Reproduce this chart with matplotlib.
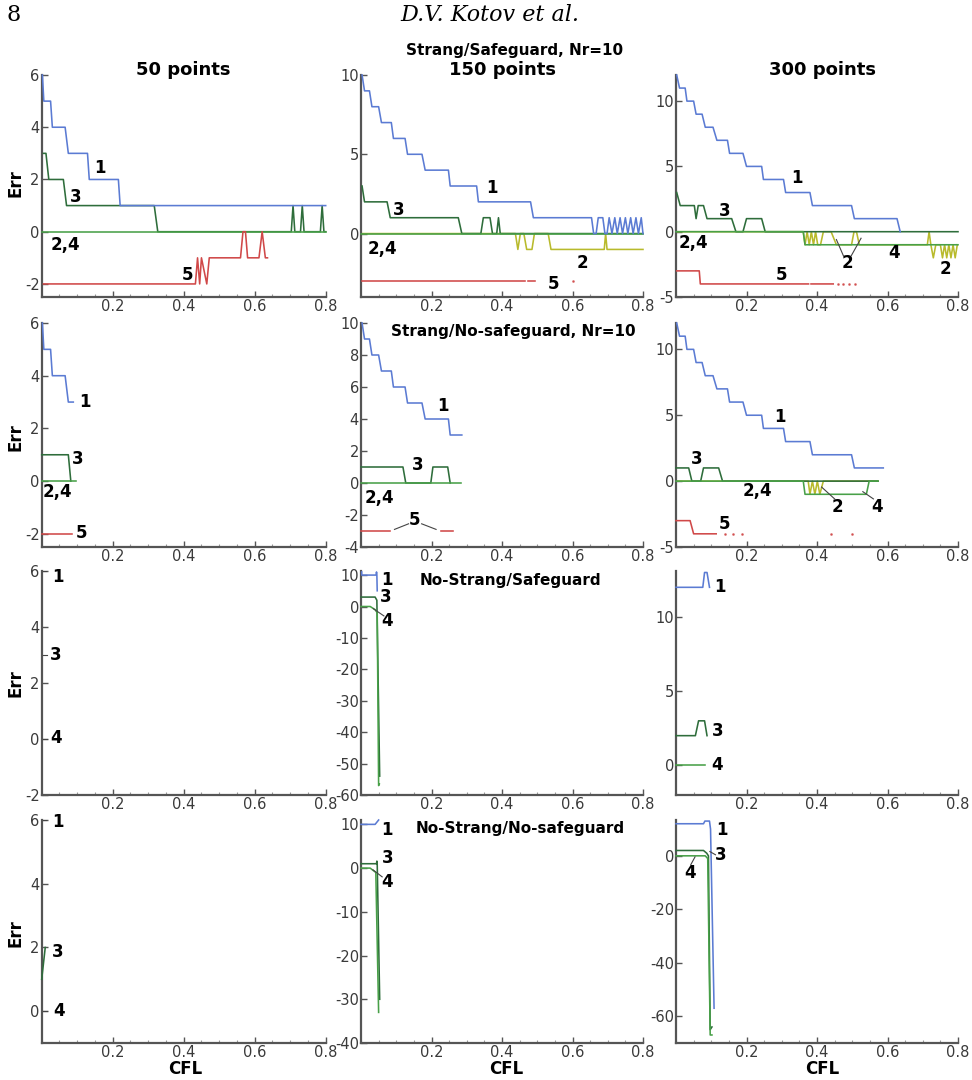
import numpy as np
import matplotlib
matplotlib.use('Agg')
import matplotlib.pyplot as plt
from matplotlib.ticker import MultipleLocator, FixedLocator

plt.rcParams['axes.unicode_minus'] = False
plt.rcParams['font.family'] = ['DejaVu Sans']

C1 = '#5b7bd3'   # curve 1 (blue)
C2 = '#b8ba2c'   # curve 2 (olive)
C3 = '#2e6d3b'   # curve 3 (dark green)
C4 = '#48a048'   # curve 4 (green)
C5 = '#d04848'   # curve 5 (red)
NAN = float('nan')

# ---------------- data: (CFL, Err) vertices ----------------
# Row 1: Strang/Safeguard
A1 = [(0.002,6),(0.006,5),(0.025,5),(0.030,4),(0.066,4),(0.075,3),(0.129,3),(0.134,2),(0.216,2),(0.221,1),(0.80,1)]
A3 = [(0.005,3),(0.012,3),(0.020,2),(0.061,2),(0.070,1),(0.317,1),(0.327,0),(0.703,0),(0.708,1),(0.713,0),(0.729,0),(0.734,1),(0.739,0),(0.785,0),(0.790,1),(0.795,0),(0.80,0)]
A4 = [(0.0,0),(0.80,0)]
A5 = [(0.005,-2),(0.433,-2),(0.439,-1),(0.445,-2),(0.450,-1),(0.465,-2),(0.472,-1),(0.560,-1),(0.567,0),(0.574,0),(0.580,-1),(0.612,-1),(0.621,0),(0.630,-1),(0.636,-1)]

B1 = [(0.003,10),(0.010,9),(0.024,9),(0.031,8),(0.050,8),(0.058,7),(0.086,7),(0.092,6),(0.125,6),(0.132,5),(0.173,5),(0.182,4),(0.248,4),(0.253,3),(0.328,3),(0.333,2),(0.481,2),(0.489,1),(0.654,1),(0.660,0),(0.667,0),(0.673,1),(0.686,1),(0.692,0),(0.698,0),(0.704,1),(0.712,0),(0.720,1),(0.727,0),(0.735,1),(0.742,0),(0.750,1),(0.757,0),(0.765,1),(0.772,0),(0.780,1),(0.787,0),(0.795,1),(0.80,0)]
B2 = [(0.0,0),(0.438,0),(0.445,-1),(0.452,0),(0.462,0),(0.470,-1),(0.485,-1),(0.492,0),(0.531,0),(0.539,-1),(0.690,-1),(0.694,0),(0.698,-1),(0.80,-1)]
B3 = [(0.003,3),(0.010,2),(0.074,2),(0.083,1),(0.276,1),(0.286,0),(0.340,0),(0.347,1),(0.366,1),(0.373,0),(0.385,0),(0.390,1),(0.395,0),(0.80,0)]
B4 = [(0.0,0),(0.80,0)]
B5 = [(0.003,-3),(0.465,-3),(NAN,NAN),(0.475,-3),(0.493,-3)]
B5_dots = [(0.602,-3)]

C1d = [(0.002,12),(0.010,11),(0.026,11),(0.031,10),(0.050,10),(0.057,9),(0.074,9),(0.083,8),(0.105,8),(0.116,7),(0.146,7),(0.152,6),(0.190,6),(0.200,5),(0.243,5),(0.248,4),(0.305,4),(0.311,3),(0.380,3),(0.387,2),(0.498,2),(0.506,1),(0.627,1),(0.636,0)]
C2d = [(0.0,0),(0.361,0),(0.366,-1),(0.372,0),(0.378,-1),(0.384,0),(0.390,-1),(0.396,0),(0.402,-1),(0.410,-1),(0.418,0),(0.440,0),(0.455,-1),(0.498,-1),(0.505,0),(0.512,0),(0.520,-1),(0.713,-1),(0.718,0),(0.723,-1),(0.730,-2),(0.737,-1),(0.750,-1),(0.756,-2),(0.762,-1),(0.768,-2),(0.774,-1),(0.780,-2),(0.786,-1),(0.792,-2),(0.798,-1)]
C3d = [(0.002,3),(0.012,2),(0.052,2),(0.057,1),(0.063,2),(0.078,2),(0.088,1),(0.158,1),(0.170,0),(0.190,0),(0.200,1),(0.243,1),(0.253,0),(0.80,0)]
C4d = [(0.0,0),(0.361,0),(0.366,-1),(0.80,-1)]
C5d = [(0.002,-3),(0.066,-3),(0.069,-4),(0.376,-4),(NAN,NAN),(0.383,-4),(0.446,-4)]
C5_dots = [(0.460,-4),(0.474,-4),(0.490,-4),(0.507,-4)]

# Row 2: Strang/No-safeguard
D1 = [(0.002,6),(0.006,5),(0.025,5),(0.030,4),(0.066,4),(0.075,3),(0.089,3)]
D3 = [(0.0,1),(0.075,1),(0.082,0)]
D4 = [(0.0,0),(0.097,0)]
D5 = [(0.0,-2),(0.085,-2)]

E1 = [(0.003,10),(0.010,9),(0.024,9),(0.031,8),(0.050,8),(0.058,7),(0.086,7),(0.092,6),(0.125,6),(0.132,5),(0.173,5),(0.182,4),(0.248,4),(0.253,3),(0.286,3)]
E3 = [(0.0,1),(0.119,1),(0.127,0),(0.198,0),(0.204,1),(0.246,1),(0.253,0)]
E4 = [(0.0,0),(0.283,0)]
E5 = [(0.0,-3),(0.083,-3),(NAN,NAN),(0.226,-3),(0.260,-3)]

F1 = [(0.002,12),(0.010,11),(0.026,11),(0.031,10),(0.050,10),(0.057,9),(0.074,9),(0.083,8),(0.105,8),(0.116,7),(0.146,7),(0.152,6),(0.190,6),(0.200,5),(0.243,5),(0.248,4),(0.305,4),(0.311,3),(0.380,3),(0.387,2),(0.498,2),(0.506,1),(0.588,1)]
F2 = [(0.0,0),(0.375,0),(0.380,-1),(0.387,0),(0.394,-1),(0.401,0),(0.408,-1),(0.418,0),(0.573,0)]
F3 = [(0.0,1),(0.036,1),(0.045,0),(0.070,0),(0.078,1),(0.121,1),(0.132,0),(0.573,0)]
F4 = [(0.0,0),(0.361,0),(0.366,-1),(0.540,-1),(0.548,0),(0.573,0)]
F5 = [(0.0,-3),(0.040,-3),(0.050,-4),(0.114,-4)]
F5_dots = [(0.140,-4),(0.163,-4),(0.187,-4),(0.440,-4),(0.498,-4)]

# Row 3: No-Strang/Safeguard
H1 = [(0.002,11),(0.002,10),(0.043,10),(0.044,11),(0.045,10),(0.046,5)]
H3 = [(0.0,3),(0.040,3),(0.045,2),(0.053,-54)]
H4 = [(0.0,0),(0.026,0),(0.040,-1),(0.046,-2),(0.050,-57),(0.052,-56.5)]

I1 = [(0.0,12),(0.076,12),(0.081,13),(0.088,13),(0.095,12)]
I3 = [(0.0,2),(0.055,2),(0.064,3),(0.081,3),(0.088,2)]
I4 = [(0.0,0),(0.083,0)]

# Row 4: No-Strang/No-safeguard
J3 = [(0.0,1),(0.010,2)]

K1 = [(0.0,10),(0.040,10),(0.050,11)]
K3 = [(0.0,1),(0.044,1),(0.045,1.6),(0.046,1),(0.053,-30)]
K4 = [(0.0,0),(0.026,0),(0.042,-1),(0.050,-33)]

L1 = [(0.0,12),(0.078,12),(0.082,13),(0.095,13),(0.098,10),(0.108,-57)]
L3 = [(0.0,2),(0.078,2),(0.087,1),(0.092,0),(0.097,-65),(0.102,-64)]
L4 = [(0.0,0),(0.083,0),(0.090,-1),(0.097,-67),(0.102,-67)]

x_ticks = [0.2, 0.4, 0.6, 0.8]
x_tick_labels = ['0.2', '0.4', '0.6', '0.8']
col_titles = ['50 points', '150 points', '300 points']
row_titles = ['Strang/Safeguard, Nr=10', 'Strang/No-safeguard, Nr=10',
              'No-Strang/Safeguard', 'No-Strang/No-safeguard']


def xy(pairs):
    a = np.array(pairs, dtype=float)
    return a[:, 0], a[:, 1]


W, H = 972, 1080
fig = plt.figure(figsize=(W / 100, H / 100), dpi=100)

col_left = [41.7, 361, 676]
col_w = [284, 282, 282]
row_top = [75, 323, 571, 820]
row_bot = [297, 547, 795, 1043]


def fx(px):
    return px / W


def fy(py):
    return 1 - py / H


panels = {
    (0, 0): dict(ylim=(-2.5, 6), yt=[-2, 0, 2, 4, 6],
                 lines=[(A3, C3, 3), (A4, C4, 4), (A1, C1, 5), (A5, C5, 5)], dots=[],
                 labels=[('1', 0.164, 2.45), ('3', 0.097, 1.33), ('2,4', 0.066, -0.5), ('5', 0.41, -1.65)],
                 leaders=[]),
    (0, 1): dict(ylim=(-4, 10), yt=[0, 5, 10],
                 lines=[(B2, C2, 2), (B3, C3, 3), (B4, C4, 4), (B1, C1, 5), (B5, C5, 5)], dots=[B5_dots],
                 labels=[('1', 0.372, 2.85), ('3', 0.108, 1.5), ('2,4', 0.06, -0.95), ('2', 0.627, -1.83), ('5', 0.545, -3.2)],
                 leaders=[]),
    (0, 2): dict(ylim=(-5, 12), yt=[-5, 0, 5, 10],
                 lines=[(C2d, C2, 2), (C3d, C3, 3), (C4d, C4, 4), (C1d, C1, 5), (C5d, C5, 5)], dots=[C5_dots],
                 labels=[('1', 0.343, 4.1), ('3', 0.139, 1.6), ('2,4', 0.05, -0.85), ('2', 0.485, -2.4),
                         ('4', 0.62, -1.6), ('2', 0.764, -2.85), ('5', 0.30, -3.3)],
                 leaders=[((0.475, -1.85), (0.455, -0.6)), ((0.497, -1.85), (0.525, -0.5))]),
    (1, 0): dict(ylim=(-2.5, 6), yt=[-2, 0, 2, 4, 6],
                 lines=[(D3, C3, 3), (D4, C4, 4), (D1, C1, 5), (D5, C5, 5)], dots=[],
                 labels=[('1', 0.122, 3.0), ('3', 0.10, 0.85), ('2,4', 0.043, -0.4), ('5', 0.113, -1.95)],
                 leaders=[]),
    (1, 1): dict(ylim=(-4, 10), yt=[-4, -2, 0, 2, 4, 6, 8, 10],
                 lines=[(E3, C3, 3), (E4, C4, 4), (E1, C1, 5), (E5, C5, 5)], dots=[],
                 labels=[('1', 0.233, 4.8), ('3', 0.162, 1.1), ('2,4', 0.053, -0.95), ('5', 0.153, -2.3)],
                 leaders=[((0.135, -2.55), (0.095, -2.9)), ((0.172, -2.55), (0.213, -2.9))]),
    (1, 2): dict(ylim=(-5, 12), yt=[-5, 0, 5, 10],
                 lines=[(F2, C2, 2), (F3, C3, 3), (F4, C4, 4), (F1, C1, 5), (F5, C5, 5)], dots=[F5_dots],
                 labels=[('1', 0.295, 4.85), ('3', 0.06, 1.7), ('2,4', 0.23, -0.75), ('2', 0.457, -2.0),
                         ('4', 0.57, -2.0), ('5', 0.139, -3.25)],
                 leaders=[((0.45, -1.35), (0.413, -0.45)), ((0.56, -1.35), (0.53, -0.8))]),
    (2, 0): dict(ylim=(-2, 6), yt=[-2, 0, 2, 4, 6],
                 lines=[], dots=[],
                 labels=[('1', 0.045, 5.8), ('3', 0.040, 3.0), ('4', 0.040, 0.05)],
                 leaders=[((0.004, 3.0), (0.015, 3.0)), ((0.004, 0.0), (0.015, 0.0)), ((0.004, 6.0), (0.012, 6.0))]),
    (2, 1): dict(ylim=(-60, 11.3), yt=[-60, -50, -40, -30, -20, -10, 0, 10],
                 lines=[(H3, C3, 3), (H4, C4, 4), (H1, C1, 5)], dots=[],
                 labels=[('1', 0.074, 8.4), ('3', 0.071, 3.0), ('4', 0.074, -4.7)],
                 leaders=[((0.065, -3.0), (0.035, -0.7))]),
    (2, 2): dict(ylim=(-2, 13.1), yt=[0, 5, 10],
                 lines=[(I3, C3, 3), (I4, C4, 4), (I1, C1, 5)], dots=[],
                 labels=[('1', 0.125, 12.0), ('3', 0.119, 2.3), ('4', 0.116, 0.05)],
                 leaders=[]),
    (3, 0): dict(ylim=(-1, 6), yt=[0, 2, 4, 6],
                 lines=[(J3, C3, 3)], dots=[],
                 labels=[('1', 0.046, 5.95), ('3', 0.045, 1.87), ('4', 0.048, 0.0)],
                 leaders=[((0.004, 6.0), (0.012, 6.0)), ((0.004, 0.0), (0.015, 0.0))]),
    (3, 1): dict(ylim=(-40, 11), yt=[-40, -30, -20, -10, 0, 10],
                 lines=[(K3, C3, 3), (K4, C4, 4), (K1, C1, 5)], dots=[],
                 labels=[('1', 0.074, 8.8), ('3', 0.077, 2.4), ('4', 0.074, -3.2)],
                 leaders=[((0.06, -2.0), (0.034, -0.4))]),
    (3, 2): dict(ylim=(-70, 13.4), yt=[-60, -40, -20, 0],
                 lines=[(L3, C3, 3), (L4, C4, 4), (L1, C1, 5)], dots=[],
                 labels=[('1', 0.13, 9.7), ('3', 0.128, 0.4), ('4', 0.04, -6.3)],
                 leaders=[((0.112, 0.4), (0.096, 1.6)), ((0.042, -3.3), (0.054, -0.4))]),
}

SP = '#555555'
for (r, c), p in panels.items():
    left = col_left[c]
    ax = fig.add_axes([fx(left), fy(row_bot[r]), col_w[c] / W, (row_bot[r] - row_top[r]) / H])
    ax.set_xlim(0, 0.8)
    ax.set_ylim(*p['ylim'])
    for s in ['top', 'right']:
        ax.spines[s].set_visible(False)
    for s in ['left', 'bottom']:
        ax.spines[s].set_color(SP)
        ax.spines[s].set_linewidth(1.6)
    ax.xaxis.set_major_locator(FixedLocator(x_ticks))
    ax.set_xticklabels(x_tick_labels)
    ax.xaxis.set_minor_locator(MultipleLocator(0.05))
    ax.yaxis.set_major_locator(FixedLocator(p['yt']))
    ax.set_yticklabels([str(v) for v in p['yt']])
    ax.tick_params(which='major', direction='in', length=4, width=1, color=SP,
                   labelsize=10.5, labelcolor='#3a3a3a', pad=1.5)
    ax.tick_params(which='minor', direction='in', length=2, width=0.8, color='#999999')
    ax.tick_params(axis='y', which='minor', left=False)
    for pairs, col, z in p['lines']:
        x, y = xy(pairs)
        ax.plot(x, y, color=col, lw=1.15, zorder=z, clip_on=False)
    for d in p['dots']:
        x, y = xy(d)
        ax.plot(x, y, ls='none', marker='.', ms=1.8, color=C5, alpha=0.8, zorder=5)
    for t, lx, ly in p['labels']:
        ax.text(lx, ly, t, fontsize=12, fontweight='bold', ha='center', va='center', zorder=6)
    for (x0, y0), (x1, y1) in p['leaders']:
        ax.plot([x0, x1], [y0, y1], color='#444444', lw=0.8, zorder=6)

# column titles
for cx, t in zip([183, 502, 822], col_titles):
    fig.text(fx(cx), fy(70), t, fontsize=13, fontweight='bold', ha='center', va='center')
# row titles
for (tx, ty), t in zip([(515, 50), (513, 332), (510, 581), (520, 828)], row_titles):
    fig.text(fx(tx), fy(ty), t, fontsize=11, fontweight='bold', ha='center', va='center')

# Err / CFL labels
for ey in [183, 437, 683, 933]:
    fig.text(fx(15), fy(ey), 'Err', fontsize=12, fontweight='bold', rotation=90, ha='center', va='center')
for cx in [185, 506, 822]:
    fig.text(fx(cx), fy(1069), 'CFL', fontsize=12, fontweight='bold', ha='center', va='center')

# page header
fig.text(fx(14), fy(15), '8', fontsize=16, family='DejaVu Serif', ha='center', va='center')
fig.text(fx(490), fy(15), 'D.V. Kotov et al.', fontsize=16, family='DejaVu Serif',
         style='italic', ha='center', va='center')

fig.savefig('out.png', dpi=100, facecolor='white')
